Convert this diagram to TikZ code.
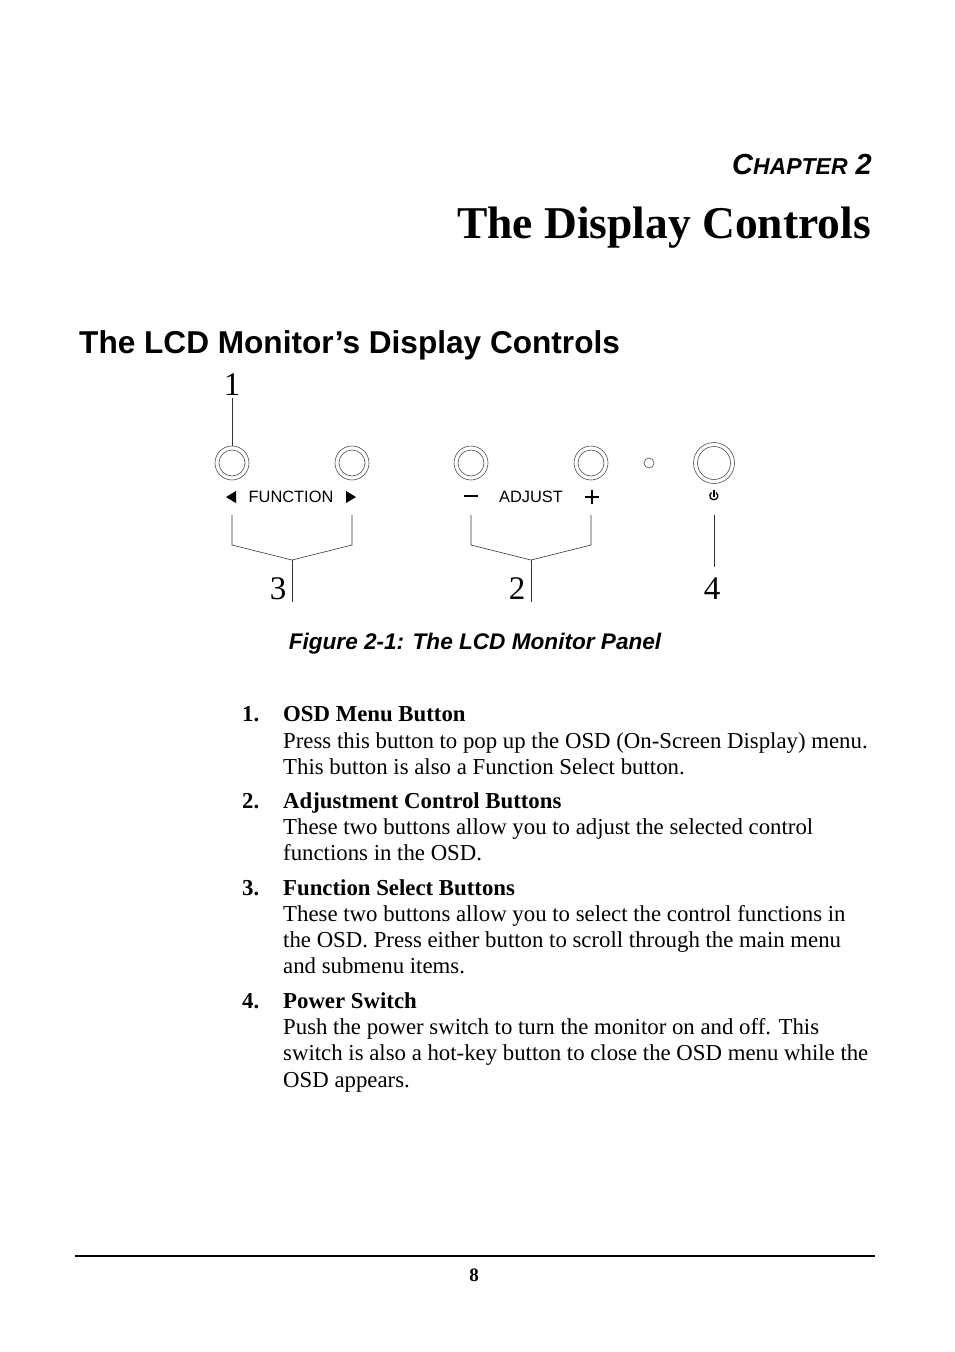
\documentclass[tikz,border=0pt]{standalone}
\usepackage{fontspec}
\setmainfont{Liberation Serif}
\setsansfont{Liberation Sans}
\usepackage{tikz}
\tikzset{
  btn/.style={circle, draw=black!70, line width=0.6pt, minimum size=#1, inner sep=0pt},
  body/.style={anchor=base west, font=\fontsize{22.8}{26}\selectfont, inner sep=0pt},
  head/.style={anchor=base west, font=\fontsize{22.8}{26}\selectfont\bfseries, inner sep=0pt},
  pnum/.style={font=\fontsize{33}{33}\selectfont, inner sep=0pt},
  plab/.style={font=\sffamily\fontsize{16.4}{16}\selectfont, inner sep=0pt},
  signline/.style={line width=1.6pt}
}
\begin{document}
\begin{tikzpicture}[x=1pt, y=-1pt]
    \useasboundingbox (0,0) rectangle (954,1352);
    % Chapter heading
    \node[anchor=east, inner sep=0pt, font=\sffamily\bfseries\itshape\fontsize{29}{29}\selectfont] (chap) at (872,165) {C{\fontsize{23}{23}\selectfont HAPTER} 2};
    \node[anchor=east, inner sep=0pt, font=\bfseries\fontsize{45.5}{46}\selectfont] (title) at (871,228) {The Display Controls};
    \node[anchor=west, inner sep=0pt, font=\sffamily\bfseries\fontsize{31.6}{32}\selectfont] (sect) at (79,345) {The LCD Monitor’s Display Controls};

    % Buttons
    \foreach \n/\x in {b1/232, b2/352, b3/471, b4/591} {
      \node[btn=34pt] (\n) at (\x,463) {};
      \node[btn=26pt] at (\x,463) {};
    }
    \node[btn=10pt] (led) at (649,463) {};
    \node[btn=41pt] (pwr) at (714,463) {};
    \node[btn=33pt] at (714,463) {};

    % Panel labels
    \node[plab] (func) at (291,497) {FUNCTION};
    \node[plab] (adj) at (531,497) {ADJUST};
    \fill (226,497) -- (236,491) -- (236,503) -- cycle;
    \fill (356,497) -- (346,491) -- (346,503) -- cycle;
    \draw[signline] (464,496) -- (478,496);
    \draw[line width=1.2pt] (585,497) -- (599,497) (592,490) -- (592,504);
    \draw[line width=1.3pt] (711.5,492.5) arc[start angle=125, end angle=415, radius=4pt];
    \draw[line width=1.3pt] (714,490) -- (714,497);

    % Callouts
    \node[pnum] (n1) at (232,385) {1};
    \node[pnum] (n3) at (278,589) {3};
    \node[pnum] (n2) at (517,589) {2};
    \node[pnum] (n4) at (712,589) {4};
    \coordinate (j3) at (292,560);
    \coordinate (j2) at (531,560);
    \draw[black!80, line width=0.6pt] (232,398) -- (b1.north);
    \draw[black!80, line width=0.6pt] (232,515) -- (232,545) -- (j3) -- (352,545) -- (352,515);
    \draw[black!80, line width=0.6pt] (j3) -- (292,602);
    \draw[black!80, line width=0.6pt] (471,515) -- (471,545) -- (j2) -- (591,545) -- (591,515);
    \draw[black!80, line width=0.6pt] (j2) -- (531,602);
    \draw[black!80, line width=0.6pt] (714,515) -- (714,567);

    \node[inner sep=0pt, font=\sffamily\bfseries\itshape\fontsize{22.6}{22}\selectfont] (cap) at (475,644) {Figure 2-1: The LCD Monitor Panel};

    % Item list
    \foreach \i/\y/\t in {1/721/OSD Menu Button, 2/808/Adjustment Control Buttons, 3/895/Function Select Buttons, 4/1008/Power Switch} {
      \node[head] (num\i) at (242,\y) {\i.};
      \node[head] (itm\i) at (283,\y) {\t};
    }
    \node[body] (d1a) at (283,748) {Press this button to pop up the OSD (On-Screen Display) menu.};
    \node[body] (d1b) at (283,774) {This button is also a Function Select button.};
    \node[body] (d2a) at (283,834) {These two buttons allow you to adjust the selected control};
    \node[body] (d2b) at (283,860) {functions in the OSD.};
    \node[body] (d3a) at (283,921) {These two buttons allow you to select the control functions in};
    \node[body] (d3b) at (283,947) {the OSD. Press either button to scroll through the main menu};
    \node[body] (d3c) at (283,973) {and submenu items.};
    \node[body] (d4a) at (283,1034) {Push the power switch to turn the monitor on and off. This};
    \node[body] (d4b) at (283,1060) {switch is also a hot-key button to close the OSD menu while the};
    \node[body] (d4c) at (283,1087) {OSD appears.};

    % Footer
    \draw[line width=2.5pt] (75,1256) -- (875,1256);
    \node[inner sep=0pt, font=\bfseries\fontsize{19}{19}\selectfont] (page) at (474,1275) {8};
\end{tikzpicture}
\end{document}
